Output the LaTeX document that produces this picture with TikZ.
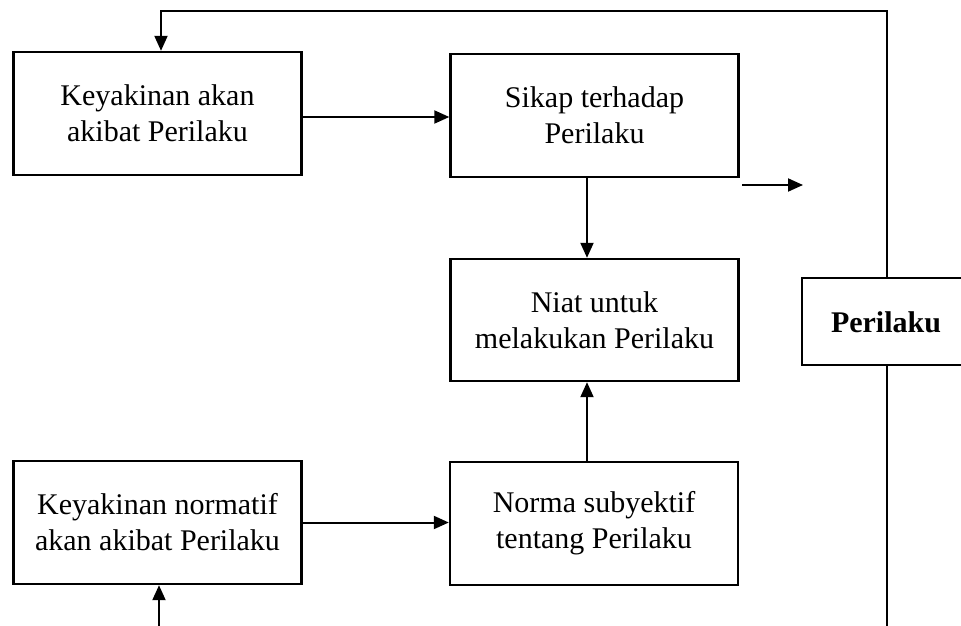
\documentclass[tikz,border=0pt]{standalone}
\usepackage{fontspec}
\setmainfont{Liberation Serif}
\usetikzlibrary{arrows.meta}
\begin{document}
\begin{tikzpicture}[x=1pt,y=1pt,
  box/.style={draw, line width=2.4pt, minimum width=288pt, minimum height=123pt,
    align=center, inner sep=0pt, font=\fontsize{30}{36}\selectfont},
  conn/.style={line width=2pt},
  arr/.style={conn, -{Triangle[length=15pt,width=13pt]}},
  lbl/.style={inner sep=0pt, font=\fontsize{30}{36}\selectfont\bfseries}
]
\useasboundingbox (0,0) rectangle (961,-626);
% boxes
\node[box] (b1) at (157.5,-113.5) {Keyakinan akan\\akibat Perilaku};
\node[box] (b2) at (594.5,-115.5) {Sikap terhadap\\Perilaku};
\node[box, minimum height=122pt] (b3) at (594.5,-320) {Niat untuk\\melakukan Perilaku};
\node[box] (b5) at (157.5,-522.5) {Keyakinan normatif\\akan akibat Perilaku};
\node[box] (b6) at (594,-523.5) {Norma subyektif\\tentang Perilaku};
% Perilaku box (cut by the right page edge)
\node[lbl] (per) at (886,-322) {Perilaku};
\coordinate (pNW) at (802,-278);
\coordinate (pSW) at (802,-365);
\coordinate (pNE) at (961,-278);
\coordinate (pSE) at (961,-365);
\draw[line width=2.4pt] (pNE) -- (pNW) -- (pSW) -- (pSE);
% helper coordinates
\coordinate (pTop) at (887,-278);
\coordinate (pBot) at (887,-365);
\coordinate (tr) at (887,-11);
\coordinate (br) at (887,-626);
\coordinate (bl) at (159,-626);
\coordinate (fa1) at (742,-185);
\coordinate (fa2) at (803,-185);
\coordinate (ax) at (587,0);
% connectors
\draw[arr] (pTop) -- (tr) -| ([xshift=3.5pt]b1.north);
\draw[conn] (pBot) -- (br);
\draw[arr] ([yshift=-3.5pt]b1.east) -- ([yshift=-3.5pt]b1.east -| b2.west);
\draw[arr] (fa1) -- (fa2);
\draw[arr] (b2.south -| ax) -- (b3.north -| ax);
\draw[arr] (b6.north -| ax) -- (b3.south -| ax);
\draw[arr] (b5.east) -- (b5.east -| b6.west);
\draw[arr] (bl) -- (bl |- b5.south);
\end{tikzpicture}
\end{document}
